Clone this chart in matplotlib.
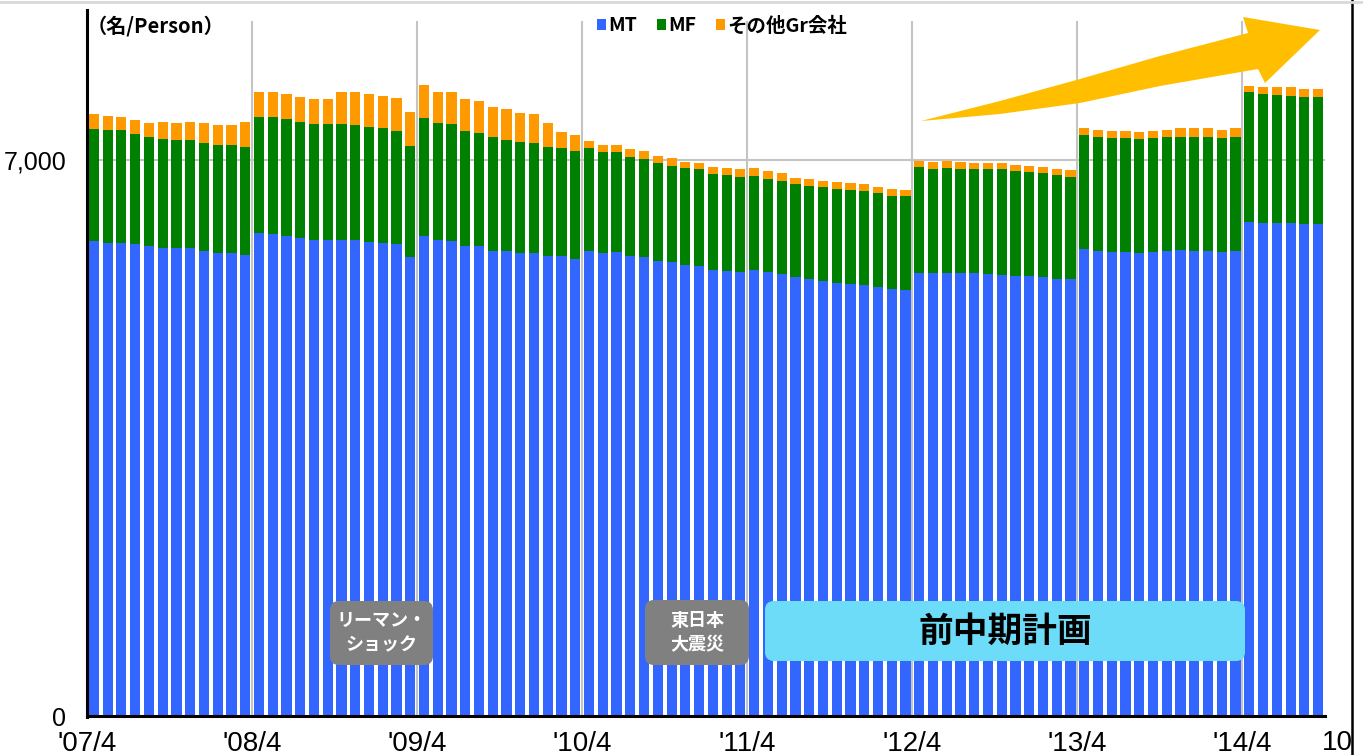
import numpy as np
import matplotlib.pyplot as plt
from matplotlib.patches import FancyBboxPatch, Polygon
from matplotlib.lines import Line2D

# monthly head count, '07/4 .. '14/9
mt = [5980, 5959, 5959, 5942, 5921, 5896, 5888, 5888, 5858, 5833, 5825, 5804,
      6077, 6068, 6047, 6014, 5993, 5993, 5993, 5993, 5972, 5959, 5942, 5775,
      6047, 5993, 5980, 5921, 5917, 5858, 5854, 5825, 5825, 5791, 5791, 5754,
      5854, 5825, 5846, 5791, 5775, 5732, 5720, 5678, 5669, 5615, 5603, 5586,
      5615, 5594, 5565, 5523, 5502, 5480, 5455, 5439, 5426, 5397, 5376, 5363,
      5581, 5574, 5581, 5574, 5574, 5565, 5552, 5543, 5543, 5523, 5502, 5498,
      5876, 5854, 5846, 5838, 5825, 5838, 5854, 5867, 5858, 5858, 5838, 5854,
      6223, 6211, 6203, 6203, 6194, 6194]
mf = [1410, 1419, 1419, 1385, 1372, 1369, 1364, 1364, 1360, 1356, 1364, 1356,
      1460, 1469, 1465, 1460, 1457, 1457, 1457, 1448, 1448, 1440, 1426, 1405,
      1486, 1469, 1469, 1444, 1426, 1428, 1397, 1397, 1392, 1376, 1364, 1360,
      1293, 1279, 1259, 1250, 1238, 1234, 1209, 1217, 1214, 1209, 1209, 1204,
      1187, 1167, 1175, 1175, 1175, 1176, 1180, 1183, 1187, 1191, 1175, 1187,
      1335, 1313, 1322, 1313, 1313, 1322, 1331, 1318, 1309, 1309, 1309, 1292,
      1439, 1431, 1428, 1435, 1435, 1435, 1431, 1426, 1435, 1435, 1443, 1439,
      1637, 1620, 1615, 1607, 1603, 1603]
other = [185, 176, 167, 176, 176, 214, 218, 223, 244, 252, 252, 315,
         322, 315, 319, 322, 319, 319, 403, 412, 412, 407, 408, 420,
         412, 398, 403, 403, 403, 378, 387, 365, 358, 295, 201, 201,
         92, 84, 84, 97, 101, 88, 93, 83, 83, 92, 92, 93,
         93, 101, 93, 79, 81, 79, 84, 84, 84, 76, 84, 72,
         72, 84, 84, 84, 79, 79, 76, 76, 72, 79, 72, 84,
         84, 92, 92, 92, 96, 92, 92, 106, 106, 106, 97, 106,
         76, 92, 97, 106, 97, 97]
year_labels = ["'07/4", "'08/4", "'09/4", "'10/4", "'11/4", "'12/4", "'13/4", "'14/4"]
series_names = ['MT', 'MF', 'その他Gr会社']
colors = ['#3366ff', '#008000', '#ff9900']

JP = ['Noto Sans CJK JP', 'DejaVu Sans']
NARROW = ['Liberation Sans Narrow', 'Liberation Sans', 'DejaVu Sans']

W, H = 1363, 755
fig = plt.figure(figsize=(W / 100, H / 100), dpi=100)
ax = fig.add_axes([87 / W, 1 - 716 / H, (1325 - 87) / W, (716 - 21) / H])

x = np.arange(len(mt))
mt_a, mf_a, ot_a = np.array(mt), np.array(mf), np.array(other)
bars = []
bars.append(ax.bar(x, mt_a, width=0.74, color=colors[0], zorder=2))
bars.append(ax.bar(x, mf_a, bottom=mt_a, width=0.74, color=colors[1], zorder=2))
bars.append(ax.bar(x, ot_a, bottom=mt_a + mf_a, width=0.74, color=colors[2], zorder=2))

ax.set_xlim(-0.5, len(mt) - 0.5)
ax.set_ylim(0, 8750)
ax.set_xticks([12 * k - 0.5 for k in range(len(year_labels))])
ax.set_xticklabels(year_labels, family=NARROW, fontsize=20)
ax.set_yticks([0, 7000])
ax.set_yticklabels(['0', '7,000'], family=NARROW, fontsize=18)
ax.tick_params(axis='x', length=0, pad=11)
ax.tick_params(axis='y', length=0, pad=15)
ax.grid(True, color='#c4c4c4', lw=1.5, zorder=0)
for s in ['top', 'right', 'left']:
    ax.spines[s].set_visible(False)
ax.spines['bottom'].set_linewidth(2.2)
# y axis line runs a little above the plot area, as in the original
fig.add_artist(Line2D([87 / W, 87 / W], [1 - 717 / H, 1 - 10 / H],
                      transform=fig.transFigure, color='black', lw=2.2))

fig.text(1322 / W, 1 - 743 / H, '10', family=NARROW, fontsize=20, ha='left', va='center')

ax.text(0.0, 0.993, '（名/Person）', transform=ax.transAxes, family=JP,
        fontsize=14.5, fontweight='bold', ha='left', va='center')

leg = ax.legend([b[0] for b in bars], series_names, loc='center',
                bbox_to_anchor=(0.513, 0.993), ncol=3, frameon=False,
                prop={'family': JP, 'size': 14, 'weight': 'bold'},
                handlelength=0.45, handleheight=0.45, handletextpad=0.15,
                columnspacing=1.0, borderaxespad=0)


def px_box(x0, x1, y0, y1, fc):
    fx0, fx1 = (x0 - 87) / 1238, (x1 - 87) / 1238
    fy0, fy1 = (716 - y1) / 695, (716 - y0) / 695
    p = FancyBboxPatch((fx0, fy0), fx1 - fx0, fy1 - fy0,
                       boxstyle='round,pad=0,rounding_size=%f' % (9 / 1238),
                       mutation_aspect=1238 / 695, transform=ax.transAxes,
                       fc=fc, ec='none', zorder=5)
    ax.add_patch(p)
    return (fx0 + fx1) / 2, (fy0 + fy1) / 2


cx, cy = px_box(330, 433, 601, 665, '#808080')
ax.text(cx, cy, 'リーマン・\nショック', transform=ax.transAxes, family=JP, fontsize=13,
        fontweight='bold', color='white', ha='center', va='center', linespacing=1.35, zorder=6)
cx, cy = px_box(645, 749, 600, 665, '#808080')
ax.text(cx, cy, '東日本\n大震災', transform=ax.transAxes, family=JP, fontsize=13,
        fontweight='bold', color='white', ha='center', va='center', linespacing=1.35, zorder=6)
cx, cy = px_box(765, 1245, 601, 661, '#6cdcf8')
ax.text(cx, cy, '前中期計画', transform=ax.transAxes, family=JP, fontsize=25,
        fontweight='bold', color='black', ha='center', va='center', zorder=6)

# growth arrow (pixel outline)
arrow_px = [(921, 121), (1000, 101), (1080, 79), (1160, 56), (1248, 33), (1243, 17),
            (1320, 30), (1265, 83), (1258, 69), (1160, 86), (1080, 103), (1000, 114)]
arrow = Polygon([(px / W, 1 - py / H) for px, py in arrow_px], closed=True,
                transform=fig.transFigure, fc='#ffbf00', ec='none', zorder=10)
fig.add_artist(arrow)

fig.add_artist(Line2D([1352 / W, 1352 / W], [0, 1], transform=fig.transFigure, color='black', lw=1.8))
fig.add_artist(Line2D([0, 1], [1 - 2 / H, 1 - 2 / H], transform=fig.transFigure, color='#d8d8d8', lw=2))

fig.savefig('out.png', dpi=100)
